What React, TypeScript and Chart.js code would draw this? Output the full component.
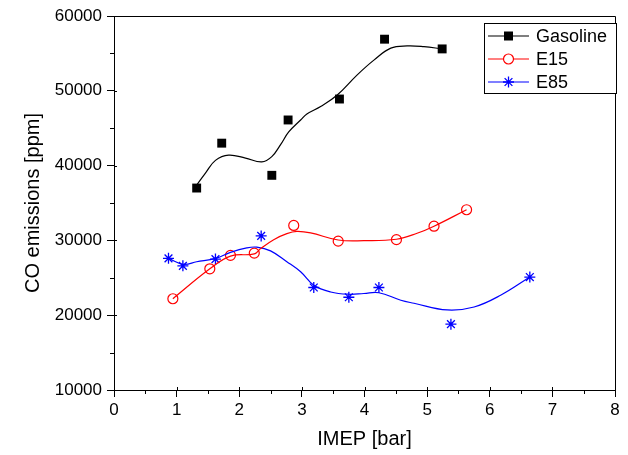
import { useEffect, useRef } from "react";
import { Chart, registerables } from "chart.js";
Chart.register(...registerables);

const xTicks = [0, 1, 2, 3, 4, 5, 6, 7, 8];
const yTicks = [10000, 20000, 30000, 40000, 50000, 60000];
const seriesNames = ["Gasoline", "E15", "E85"];

const gasolineX = [1.32, 1.72, 2.52, 2.78, 3.6, 4.32, 5.24];
const gasolineY = [37000, 43000, 38700, 46100, 48900, 56900, 55600];
const gasolineCurveX = [1.32, 1.46, 1.62, 1.83, 2.1, 2.36, 2.52, 2.66, 2.79, 2.98, 3.08, 3.3, 3.56, 3.88, 4.15, 4.42, 4.68, 4.95, 5.24];
const gasolineCurveY = [37400, 39000, 40700, 41400, 41000, 40500, 41200, 42800, 44500, 46100, 46900, 47900, 49400, 52100, 54100, 55700, 56000, 55900, 55600];

const e15X = [0.94, 1.53, 1.86, 2.24, 2.87, 3.58, 4.51, 5.11, 5.63];
const e15Y = [22200, 26200, 28000, 28300, 32000, 29900, 30100, 31900, 34100];
const e15CurveX = [0.94, 1.53, 1.86, 2.24, 2.34, 2.55, 2.76, 2.92, 3.14, 3.58, 3.99, 4.51, 4.84, 5.11, 5.63];
const e15CurveY = [22200, 26200, 27900, 28200, 28900, 30100, 30900, 31200, 31000, 30050, 29960, 30150, 30950, 31900, 34100];

const e85X = [0.87, 1.1, 1.62, 2.35, 3.19, 3.75, 4.23, 5.38, 6.64];
const e85Y = [27600, 26600, 27500, 30600, 23700, 22400, 23700, 18800, 25100];
const e85CurveX = [0.87, 1.11, 1.32, 1.62, 1.86, 2.12, 2.28, 2.5, 2.76, 2.98, 3.19, 3.46, 3.75, 3.99, 4.23, 4.58, 4.79, 5.32, 5.75, 6.18, 6.64];
const e85CurveY = [27600, 26800, 27150, 27600, 28400, 29000, 29100, 28600, 27150, 25800, 24000, 23100, 22800, 22900, 23000, 22000, 21600, 20700, 21100, 22700, 25100];

const FONT = "'Liberation Sans', Arial, sans-serif";
const colors = ["#000000", "#ff0000", "#0000ff"];

const zip = (xs: number[], ys: number[]) => xs.map((x, i) => ({ x, y: ys[i] }));

function drawMarker(ctx: CanvasRenderingContext2D, kind: number, x: number, y: number) {
  ctx.save();
  if (kind === 0) {
    ctx.fillStyle = "#000";
    ctx.fillRect(x - 4.5, y - 4.5, 9, 9);
  } else if (kind === 1) {
    ctx.strokeStyle = colors[1];
    ctx.fillStyle = "#fff";
    ctx.lineWidth = 1.2;
    ctx.beginPath();
    ctx.arc(x, y, 5, 0, Math.PI * 2);
    ctx.fill();
    ctx.stroke();
  } else {
    ctx.strokeStyle = colors[2];
    ctx.lineWidth = 1.3;
    const r = 5.5;
    ctx.beginPath();
    for (let k = 0; k < 4; k++) {
      const a = (k * Math.PI) / 4;
      ctx.moveTo(x - r * Math.cos(a), y - r * Math.sin(a));
      ctx.lineTo(x + r * Math.cos(a), y + r * Math.sin(a));
    }
    ctx.stroke();
  }
  ctx.restore();
}

const framePlugin = {
  id: "frame",
  afterDraw(chart: any) {
    const { ctx, chartArea: a, scales } = chart;
    const xs = scales.x;
    const ys = scales.y;
    ctx.save();
    ctx.strokeStyle = "#000";
    ctx.lineWidth = 1;
    ctx.beginPath();
    ctx.moveTo(a.left, a.top + 0.5);
    ctx.lineTo(a.right + 0.5, a.top + 0.5);
    ctx.lineTo(a.right + 0.5, a.bottom);
    ctx.stroke();
    ctx.beginPath();
    for (const v of xTicks) {
      const px = Math.round(xs.getPixelForValue(v)) + 0.5;
      ctx.moveTo(px, a.bottom);
      ctx.lineTo(px, a.bottom - 3);
    }
    for (let i = 0; i < xTicks.length - 1; i++) {
      const v = (xTicks[i] + xTicks[i + 1]) / 2;
      const px = Math.round(xs.getPixelForValue(v)) + 0.5;
      ctx.moveTo(px, a.bottom);
      ctx.lineTo(px, a.bottom + 4);
    }
    for (const v of yTicks) {
      const py = Math.round(ys.getPixelForValue(v)) + 0.5;
      ctx.moveTo(a.left, py);
      ctx.lineTo(a.left + 3, py);
    }
    for (let i = 0; i < yTicks.length - 1; i++) {
      const v = (yTicks[i] + yTicks[i + 1]) / 2;
      const py = Math.round(ys.getPixelForValue(v)) + 0.5;
      ctx.moveTo(a.left, py);
      ctx.lineTo(a.left - 4, py);
    }
    ctx.stroke();

    // legend
    const bx = 484.5, by = 23.5, bw = 132, bh = 70;
    ctx.fillStyle = "#fff";
    ctx.fillRect(bx, by, bw, bh);
    ctx.strokeRect(bx, by, bw, bh);
    const rows = [36, 59, 82];
    ctx.font = `18px ${FONT}`;
    ctx.textBaseline = "middle";
    seriesNames.forEach((name, i) => {
      const yy = rows[i];
      ctx.strokeStyle = colors[i];
      ctx.lineWidth = 1.2;
      ctx.beginPath();
      ctx.moveTo(488, yy);
      ctx.lineTo(529, yy);
      ctx.stroke();
      drawMarker(ctx, i, 508.5, yy);
      ctx.fillStyle = "#000";
      ctx.fillText(name, 536, yy + 1);
    });
    ctx.restore();
  },
};

export default function App() {
  const ref = useRef<HTMLCanvasElement>(null);
  useEffect(() => {
    if (!ref.current) return;
    const curve = (xs: number[], ys: number[], i: number) => ({
      label: seriesNames[i] + " fit",
      data: zip(xs, ys),
      showLine: true,
      borderColor: colors[i],
      borderWidth: 1.2,
      pointRadius: 0,
      tension: 0.4,
      fill: false,
    });
    const pointStyles = ["rect", "circle", "star"];
    const pts = (xs: number[], ys: number[], i: number) => ({
      label: seriesNames[i],
      data: zip(xs, ys),
      showLine: false,
      borderColor: colors[i],
      backgroundColor: i === 1 ? "#ffffff" : colors[i],
      pointStyle: pointStyles[i],
      pointRadius: i === 0 ? 6.3 : i === 1 ? 5 : 5.5,
      pointBorderWidth: i === 0 ? 0 : i === 1 ? 1.2 : 1.3,
    });
    const chart = new Chart(ref.current, {
      type: "scatter",
      data: {
        datasets: [
          curve(gasolineCurveX, gasolineCurveY, 0),
          curve(e15CurveX, e15CurveY, 1),
          curve(e85CurveX, e85CurveY, 2),
          pts(gasolineX, gasolineY, 0),
          pts(e15X, e15Y, 1),
          pts(e85X, e85Y, 2),
        ],
      },
      options: {
        animation: false,
        responsive: false,
        devicePixelRatio: 1,
        layout: { padding: { top: 16, right: 13, left: 0, bottom: 0 } },
        plugins: { legend: { display: false }, tooltip: { enabled: false } },
        scales: {
          x: {
            type: "linear",
            min: 0,
            max: 8,
            afterFit: (s: any) => {
              s.height = 65;
            },
            afterBuildTicks: (s: any) => {
              s.ticks = xTicks.map((v) => ({ value: v }));
            },
            ticks: { color: "#000", font: { family: FONT, size: 17 }, padding: 3 },
            grid: { drawOnChartArea: false, drawTicks: true, tickLength: 7, color: "#000" },
            border: { display: true, color: "#000", width: 1 },
            title: { display: true, text: "IMEP [bar]", color: "#000", font: { family: FONT, size: 20 }, padding: { top: 0, bottom: 4 } },
          },
          y: {
            type: "linear",
            min: 10000,
            max: 60000,
            afterFit: (s: any) => {
              s.width = 114;
            },
            afterBuildTicks: (s: any) => {
              s.ticks = yTicks.map((v) => ({ value: v }));
            },
            ticks: { color: "#000", font: { family: FONT, size: 17 }, padding: 5, callback: (v: any) => String(v) },
            grid: { drawOnChartArea: false, drawTicks: true, tickLength: 7, color: "#000" },
            border: { display: true, color: "#000", width: 1 },
            title: { display: true, text: "CO emissions [ppm]", color: "#000", font: { family: FONT, size: 20 }, padding: { top: 21, bottom: 0 } },
          },
        },
      },
      plugins: [framePlugin],
    } as any);
    return () => chart.destroy();
  }, []);
  return (
    <div style={{ position: "absolute", left: 0, top: 0, width: 628, height: 455, background: "#fff" }}>
      <canvas ref={ref} width={628} height={455} style={{ width: 628, height: 455, display: "block" }} />
    </div>
  );
}
